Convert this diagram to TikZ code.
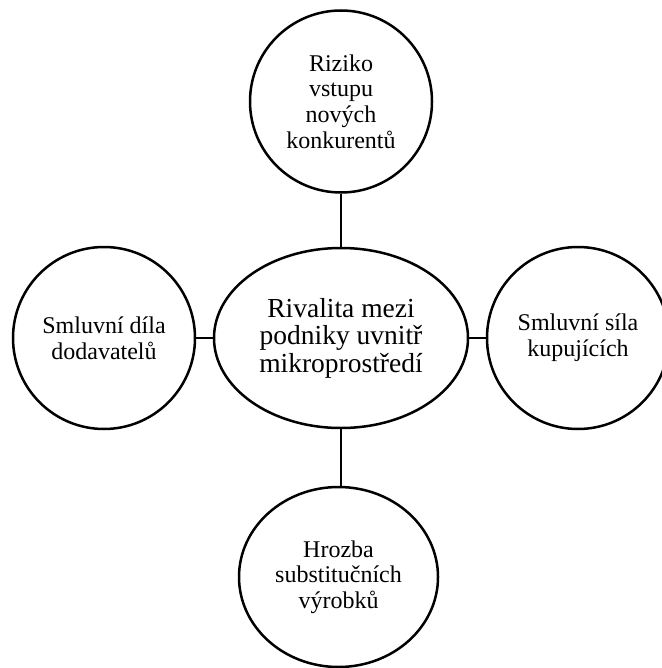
\documentclass[tikz,border=0pt]{standalone}
\usepackage{fontspec}
\setmainfont{Liberation Serif}
\usetikzlibrary{shapes.geometric}
\begin{document}
\begin{tikzpicture}[x=1pt,y=1pt,
  force/.style={draw=black, line width=2.5pt, ellipse, inner sep=0pt, align=center,
    font=\fontsize{24}{25.7}\selectfont},
  core/.style={draw=black, line width=2.5pt, ellipse, inner sep=0pt, align=center,
    font=\fontsize{27.5}{27.5}\selectfont},
  link/.style={draw=black, line width=2.5pt}]
\useasboundingbox (0,0) rectangle (661,-668);
\node[core, minimum width=254, minimum height=180] (mid) at (341,-338) {Rivalita mezi\\podniky uvnitř\\mikroprostředí};
\node[force, minimum width=182, minimum height=182] (top) at (341,-101.5) {Riziko\\vstupu\\nových\\konkurentů};
\node[force, minimum width=182, minimum height=182] (left) at (104,-338) {Smluvní díla\\dodavatelů};
\node[force, minimum width=182, minimum height=182] (right) at (578,-338) {Smluvní síla\\kupujících};
\node[force, minimum width=199, minimum height=180] (bottom) at (338.5,-577) {Hrozba\\substitučních\\výrobků};
\draw[link] (top.south) -- (mid.north);
\draw[link] (left.east) -- (mid.west);
\draw[link] (mid.east) -- (right.west);
\draw[link] (mid.south) -- (bottom.north -| mid.south);
\end{tikzpicture}
\end{document}
